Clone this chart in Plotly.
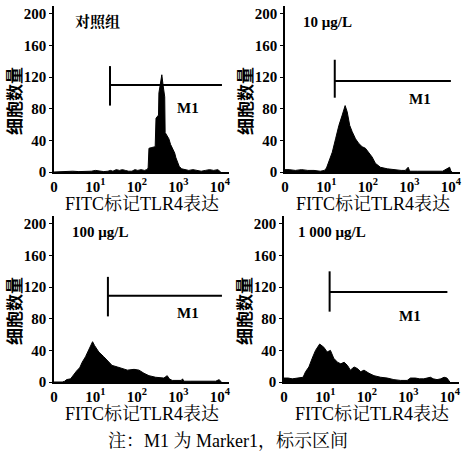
import plotly.graph_objects as go

W, H = 462, 453

# ---------------- data (log10 fluorescence channel, cell count) ----------------
CTRL_LOG = [0.00, 0.15, 0.30, 0.45, 0.60, 0.75, 0.90, 1.00, 1.10, 1.20,
            1.30, 1.36, 1.42, 1.50, 1.58, 1.65, 1.72, 1.80, 1.88, 1.95,
            2.02, 2.10, 2.18, 2.24, 2.27, 2.29, 2.36, 2.44, 2.46, 2.52,
            2.53, 2.57, 2.60, 2.63, 2.67, 2.68, 2.72, 2.77, 2.81, 2.86,
            2.91, 2.94, 2.98, 3.02, 3.08, 3.15, 3.25, 3.35, 3.45, 3.55,
            3.65, 3.75, 3.85, 3.95, 4.02]
CTRL_CNT = [0, 0.5, 0.5, 1, 0.5, 0.5, 1, 2, 1, 0.5,
            1, 2, 1, 3, 2, 3, 2, 1, 1, 3,
            2, 3, 2, 3, 5, 30, 31, 32, 68, 72,
            100, 112, 123, 110, 95, 50, 46, 42, 35, 29,
            24, 18, 12, 7, 4, 3, 2, 3, 2, 1,
            2, 3, 2, 3, 0]

D10_LOG = [0.00, 0.10, 0.25, 0.40, 0.55, 0.70, 0.85, 0.95, 1.00, 1.05,
           1.14, 1.22, 1.30, 1.38, 1.45, 1.50, 1.56, 1.62, 1.70, 1.78,
           1.86, 1.94, 2.02, 2.10, 2.18, 2.30, 2.47, 2.60, 2.70, 2.80,
           2.90, 2.97, 3.00, 3.03, 3.20, 3.40, 3.60, 3.80, 3.97, 4.00,
           4.03]
D10_CNT = [3, 3, 2, 3, 2, 2, 1, 2, 5, 12,
           25, 42, 59, 72, 84, 76, 59, 51, 42, 36,
           32, 30, 25, 19, 11, 6, 4, 3, 3, 2,
           2, 6, 2, 1, 1, 1, 1, 1, 6, 1,
           0]

D100_LOG = [0.00, 0.10, 0.20, 0.26, 0.30, 0.40, 0.48, 0.56, 0.62, 0.68,
            0.76, 0.84, 0.90, 0.93, 0.98, 1.08, 1.20, 1.29, 1.40, 1.53,
            1.65, 1.77, 1.93, 2.05, 2.17, 2.29, 2.45, 2.57, 2.65, 2.73,
            2.78, 2.85, 3.00, 3.07, 3.10, 3.13, 3.30, 3.50, 3.70, 3.90,
            3.98, 4.01, 4.04]
D100_CNT = [0, 0, 0, 1, 3, 4, 10, 15, 18, 25,
            32, 40, 47, 51, 46, 38, 32, 27, 21, 19,
            17, 15, 16, 15, 11, 8, 6, 5, 5, 8,
            4, 2, 2, 2, 4, 1, 1, 1, 1, 1,
            3, 1, 0]

D1000_LOG = [0.00, 0.10, 0.20, 0.30, 0.40, 0.46, 0.52, 0.60, 0.68, 0.76,
             0.86, 0.96, 1.04, 1.12, 1.20, 1.29, 1.37, 1.45, 1.53, 1.60,
             1.69, 1.77, 1.85, 1.93, 2.05, 2.17, 2.33, 2.49, 2.65, 2.81,
             2.97, 3.05, 3.17, 3.27, 3.37, 3.53, 3.60, 3.69, 3.78, 3.86,
             3.93, 3.98, 4.00]
D1000_CNT = [5, 5, 4, 5, 6, 6, 13, 19, 30, 40,
             48, 44, 38, 40, 30, 25, 23, 25, 21, 15,
             19, 17, 13, 15, 11, 8, 6, 5, 3, 2,
             2, 5, 5, 4, 4, 6, 4, 3, 4, 6,
             5, 2, 0]

PANEL_LABELS = ["对照组", "10 μg/L", "100 μg/L", "1 000 μg/L"]

# Marker M1 gate (log10 start/end, level, vertical bar extent)
GATE_START_LOG = [1.35, 1.20, 1.30, 1.10]
GATE_END_LOG = [4.05, 4.00, 4.05, 3.94]
GATE_LEVEL = [110, 115, 109, 114]
GATE_LOW = [84, 94, 83, 89]
GATE_HIGH = [134, 142, 133, 140]
M1_POS_LOG = [3.23, 3.25, 3.22, 3.05]
M1_POS_Y = [81, 92, 87, 83]

Y_TICKS = [0, 40, 80, 120, 160, 200]
X_TICKVALS = [1, 10, 100, 1000, 10000]
X_TICKTEXT = ["0", "10<sup>1</sup>", "10<sup>2</sup>", "10<sup>3</sup>", "10<sup>4</sup>"]

X_TITLE = "FITC标记TLR4表达"
Y_TITLE = "细胞数量"
NOTE = "注：M1 为 Marker1，标示区间"

SERIES = [(CTRL_LOG, CTRL_CNT), (D10_LOG, D10_CNT), (D100_LOG, D100_CNT), (D1000_LOG, D1000_CNT)]

# ---------------- layout geometry (pixels) ----------------
X_DOM_PX = [(54, 229), (285, 460), (54, 229), (284, 459)]
Y_DOM_PX = [(6, 172), (6, 172), (216, 382), (216, 382)]
LABEL_PX = [(73, 22), (301, 22), (70, 232), (296, 232)]

FONT = "Liberation Serif, Noto Serif CJK SC, Noto Sans CJK SC, serif"
CJK = "Noto Sans CJK SC"


def px(x):
    return x / W


def py(y):
    return 1 - y / H


fig = go.Figure()
layout = dict(
    width=W, height=H, margin=dict(l=0, r=0, t=0, b=0, autoexpand=False),
    paper_bgcolor="white", plot_bgcolor="white", showlegend=False,
    font=dict(family=FONT, color="black"),
)
annotations = []

for i, (lg, cnt) in enumerate(SERIES):
    n = "" if i == 0 else str(i + 1)
    xa, ya = "x" + n, "y" + n
    xs = [10 ** v for v in lg]
    fig.add_trace(go.Scatter(
        x=xs, y=cnt, xaxis=xa, yaxis=ya, mode="lines",
        line=dict(color="black", width=1), fill="tozeroy", fillcolor="black",
        hoverinfo="skip"))
    # gate marker
    gs, ge = 10 ** GATE_START_LOG[i], 10 ** GATE_END_LOG[i]
    fig.add_trace(go.Scatter(
        x=[gs, gs, None, gs, ge], y=[GATE_LOW[i], GATE_HIGH[i], None, GATE_LEVEL[i], GATE_LEVEL[i]],
        xaxis=xa, yaxis=ya, mode="lines", line=dict(color="black", width=2),
        hoverinfo="skip"))
    x0, x1 = X_DOM_PX[i]
    yt, yb = Y_DOM_PX[i]
    layout["xaxis" + n] = dict(
        domain=[px(x0), px(x1)], anchor=ya, type="log", range=[0, 4.22],
        tickvals=X_TICKVALS, ticktext=X_TICKTEXT, ticks="", showgrid=False,
        zeroline=False, showline=True, linecolor="black", linewidth=1.5,
        tickfont=dict(family=FONT, size=15, weight="bold"), fixedrange=True,
        automargin=False)
    layout["yaxis" + n] = dict(
        domain=[py(yb), py(yt)], anchor=xa, range=[0, 210],
        tickvals=Y_TICKS, ticks="outside", ticklen=3, tickwidth=1.2, tickcolor="black",
        showgrid=False, zeroline=False, showline=True, linecolor="black", linewidth=1.5,
        tickfont=dict(family=FONT, size=15, weight="bold"), fixedrange=True,
        automargin=False)
    # panel label
    lx, ly = LABEL_PX[i]
    annotations.append(dict(
        x=px(lx), y=py(ly), xref="paper", yref="paper", xanchor="left", yanchor="middle",
        text=PANEL_LABELS[i], showarrow=False, font=dict(family=FONT, size=15, weight="bold")))
    # M1 label
    annotations.append(dict(
        x=M1_POS_LOG[i], y=M1_POS_Y[i], xref=xa, yref=ya, xanchor="center", yanchor="middle",
        text="M1", showarrow=False, font=dict(family=FONT, size=15, weight="bold")))
    # x title
    annotations.append(dict(
        x=px((x0 + x1) / 2), y=py(yb + 32), xref="paper", yref="paper",
        xanchor="center", yanchor="middle", text=X_TITLE, showarrow=False,
        font=dict(family=FONT, size=18)))
    # y title
    annotations.append(dict(
        x=px(x0 - 41), y=py(yb - 71), xref="paper", yref="paper",
        xanchor="center", yanchor="middle", text=Y_TITLE, textangle=-90, showarrow=False,
        font=dict(family=CJK, size=17, weight="bold")))

annotations.append(dict(
    x=px(228), y=py(441), xref="paper", yref="paper", xanchor="center", yanchor="middle",
    text=NOTE, showarrow=False, font=dict(family=FONT, size=18)))

layout["annotations"] = annotations
fig.update_layout(**layout)
fig.write_html("out.html", config={"displayModeBar": False},
               post_script="document.body.style.margin='0';document.body.style.padding='0';")
